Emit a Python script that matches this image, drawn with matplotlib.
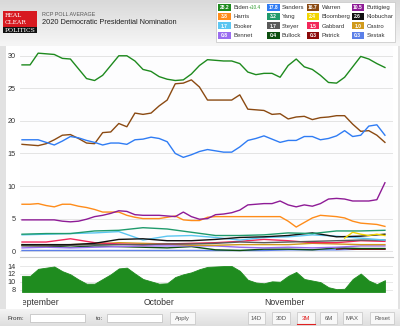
import numpy as np
import pandas as pd
import matplotlib
matplotlib.use('Agg')
import matplotlib.pyplot as plt
import matplotlib.patches as patches
import matplotlib.transforms as mtransforms

plt.rcParams['font.family'] = ['Liberation Sans', 'DejaVu Sans']

# every 2 days, Aug 28 -> Nov 26 2019
dates = pd.date_range('2019-08-28', '2019-11-26', freq='2D')
# every 6 days for the small candidates
dates6 = pd.date_range('2019-08-28', '2019-11-26', freq='6D')
dates_bloomberg = pd.date_range('2019-11-16', '2019-11-26', freq='2D')
dates_patrick = pd.date_range('2019-11-14', '2019-11-26', freq='2D')

biden = [28.6, 28.6, 30.4, 30.3, 30.2, 29.6, 29.5, 28.0, 26.5, 26.2, 27.0, 28.5,
         30.0, 30.0, 29.2, 27.9, 27.6, 26.8, 26.4, 26.2, 26.3, 27.2, 28.5, 29.4,
         29.3, 29.2, 29.2, 28.8, 27.5, 27.1, 27.3, 27.3, 26.7, 28.5, 29.5, 28.3,
         27.9, 27.0, 25.9, 25.8, 26.7, 28.3, 29.9, 29.5, 28.8, 28.2]
warren = [16.4, 16.3, 16.2, 16.5, 17.1, 17.8, 17.9, 17.3, 16.6, 16.5, 18.2, 18.3,
          19.6, 19.1, 21.2, 21.0, 21.2, 22.3, 23.2, 25.7, 25.8, 26.3, 25.2, 23.2,
          23.2, 23.2, 23.2, 24.0, 21.8, 21.7, 21.6, 21.0, 21.1, 20.3, 20.6, 20.7,
          20.2, 20.5, 20.6, 20.8, 20.8, 19.5, 18.4, 18.5, 17.8, 16.7]
sanders = [17.1, 17.1, 17.1, 16.7, 16.3, 16.9, 17.6, 17.4, 17.0, 16.7, 16.3, 16.6,
           16.6, 16.4, 17.1, 17.2, 17.5, 17.3, 16.8, 15.0, 14.4, 14.8, 15.3, 15.6,
           15.4, 15.2, 15.2, 16.0, 17.0, 17.3, 17.7, 17.2, 16.7, 17.0, 17.0, 17.6,
           17.6, 17.1, 17.3, 17.7, 18.5, 17.6, 17.8, 19.2, 19.4, 17.8]
buttigieg = [4.8, 4.8, 4.8, 4.8, 4.8, 4.6, 4.5, 4.6, 4.9, 5.3, 5.5, 5.8,
             6.2, 6.1, 5.6, 5.5, 5.5, 5.5, 5.4, 5.3, 6.0, 5.3, 4.9, 5.0,
             5.6, 5.7, 5.9, 6.3, 7.1, 7.2, 7.3, 7.3, 7.7, 7.1, 6.8, 7.1,
             6.9, 7.3, 8.0, 8.1, 8.0, 7.7, 7.7, 7.7, 7.9, 10.5]
harris = [7.2, 7.2, 7.3, 7.0, 6.8, 7.2, 7.2, 6.9, 6.7, 6.4, 6.0, 6.0,
          6.0, 5.5, 5.2, 5.0, 5.0, 5.0, 5.2, 5.4, 4.8, 4.7, 4.7, 5.2,
          5.3, 5.3, 5.3, 5.3, 5.3, 5.3, 5.3, 5.3, 5.3, 4.6, 3.7, 4.4,
          5.1, 5.5, 5.4, 5.3, 5.1, 4.6, 4.3, 4.2, 4.1, 3.8]

yang = [2.6, 2.7, 2.7, 3.1, 3.2, 3.6, 3.4, 2.9, 2.4, 2.4, 2.5, 2.8, 2.7, 3.1, 3.1, 3.2]
booker = [2.5, 2.6, 2.7, 2.8, 3.0, 1.7, 2.3, 2.4, 2.1, 1.7, 2.1, 2.2, 2.5, 2.3, 2.0, 1.7]
gabbard = [1.4, 1.4, 1.9, 1.3, 1.1, 1.0, 1.1, 1.2, 1.3, 1.5, 1.8, 1.6, 1.3, 1.3, 1.6, 1.5]
klobuchar = [1.0, 1.0, 1.0, 1.2, 1.8, 1.9, 1.6, 1.6, 1.8, 2.1, 2.2, 2.4, 2.8, 2.2, 2.3, 2.6]
castro = [1.0, 0.9, 1.0, 1.1, 1.3, 1.2, 1.1, 0.9, 0.9, 1.0, 1.0, 1.0, 1.2, 1.1, 1.0, 1.0]
steyer = [0.8, 0.8, 0.9, 1.0, 1.0, 1.0, 1.1, 1.1, 1.2, 1.4, 1.3, 1.4, 1.5, 1.6, 1.7, 1.7]
bennet = [0.5, 0.6, 0.5, 0.6, 0.7, 0.8, 0.8, 0.8, 0.8, 0.6, 0.5, 0.6, 0.5, 0.6, 0.8, 0.8]
bullock = [0.9, 0.8, 0.6, 0.8, 0.7, 0.6, 0.5, 0.7, 0.2, 0.1, 0.3, 0.3, 0.2, 0.5, 0.4, 0.4]
sestak = [0.1, 0.1, 0.1, 0.1, 0.1, 0.1, 0.1, 0.1, 0.1, 0.1, 0.1, 0.2, 0.2, 0.2, 0.3, 0.3]
bloomberg = [2.0, 2.9, 2.6, 2.4, 2.6, 2.4]
patrick = [0.3, 0.4, 0.3, 0.3, 0.3, 0.3, 0.3]

# legend order (row by row)
names = ['Biden', 'Sanders', 'Warren', 'Buttigieg',
         'Harris', 'Yang', 'Bloomberg', 'Klobuchar',
         'Booker', 'Steyer', 'Gabbard', 'Castro',
         'Bennet', 'Bullock', 'Patrick', 'Sestak']
colors = ['#1e8a1e', '#2f7cf4', '#8b4a12', '#8e1b96',
          '#ff8c1a', '#1f9a6c', '#f2d600', '#111111',
          '#5cc6f2', '#5a5a5a', '#f2275a', '#d09a1c',
          '#9a6cf0', '#0d4f10', '#8b0a0a', '#5b7fe8']

series = {
    'Biden': (dates, biden), 'Sanders': (dates, sanders), 'Warren': (dates, warren),
    'Buttigieg': (dates, buttigieg), 'Harris': (dates, harris), 'Yang': (dates6, yang),
    'Bloomberg': (dates_bloomberg, bloomberg), 'Klobuchar': (dates6, klobuchar),
    'Booker': (dates6, booker), 'Steyer': (dates6, steyer), 'Gabbard': (dates6, gabbard),
    'Castro': (dates6, castro), 'Bennet': (dates6, bennet), 'Bullock': (dates6, bullock),
    'Patrick': (dates_patrick, patrick), 'Sestak': (dates6, sestak),
}
spread = np.array(biden) - np.array(sanders)

W, H = 400, 326
fig = plt.figure(figsize=(W / 100, H / 100), dpi=100)
fig.patch.set_facecolor('#e2e2e2')

# background / decoration axes in pixel coords
bg = fig.add_axes([0, 0, 1, 1], zorder=-5)
bg.set_xlim(0, W)
bg.set_ylim(H, 0)
bg.axis('off')
grad = np.linspace(0, 1, 50)[:, None]
bg.imshow(grad, extent=(0, W, 46, 0), cmap=matplotlib.colors.LinearSegmentedColormap.from_list(
    'hd', ['#d9d9d9', '#f6f6f6']), aspect='auto', zorder=0)
bg.add_patch(patches.Rectangle((6, 46), 392, 264, fc='white', ec='none', zorder=1))
bg.imshow(grad, extent=(0, W, 326, 309), cmap=matplotlib.colors.LinearSegmentedColormap.from_list(
    'ft', ['#f4f4f4', '#dedede']), aspect='auto', zorder=1)
bg.set_xlim(0, W)
bg.set_ylim(H, 0)

# logo
bg.add_patch(patches.Rectangle((3, 11), 34, 22, fc='#d71920', ec='none', zorder=2))
bg.add_patch(patches.Rectangle((3, 26.5), 34, 6.5, fc='#111111', ec='none', zorder=3))
bg.text(4.5, 15.3, 'REAL', color='white', fontsize=4.3, family='DejaVu Serif',
        va='center', ha='left', zorder=4)
bg.text(4.5, 22, 'CLEAR', color='white', fontsize=4.3, family='DejaVu Serif',
        va='center', ha='left', zorder=4)
bg.text(20, 30, 'POLITICS', color='white', fontsize=4.4, family='DejaVu Serif',
        va='center', ha='center', zorder=4)

bg.text(42, 14, 'RCP POLL AVERAGE', color='#555555', fontsize=3.9, va='center', zorder=4)
bg.text(42, 23, '2020 Democratic Presidential Nomination', color='#222222',
        fontsize=5.3, va='center', zorder=4)

# legend box
bg.add_patch(patches.Rectangle((215.5, 1.5), 179.5, 40, fc='white', ec='#cccccc',
                               lw=0.6, zorder=2))
col_x = [218, 267, 306.5, 351.5]
row_y = [7.3, 16.6, 25.9, 35.2]
for i, name in enumerate(names):
    cx, cy = col_x[i % 4], row_y[i // 4]
    last = series[name][1][-1]
    bg.add_patch(patches.Rectangle((cx, cy - 3.5), 12.5, 7, fc=colors[i], ec='none', zorder=3))
    bg.text(cx + 6.25, cy + 0.2, f'{last:.1f}', color='white', fontsize=3.6,
            ha='center', va='center', fontweight='bold', zorder=4)
    bg.text(cx + 15, cy + 0.2, name, color='#333333', fontsize=4.3, va='center', zorder=4)
bg.text(249, 7.5, f'+{biden[-1] - sanders[-1]:.1f}', color='#2e9a2e', fontsize=3.4,
        va='center', zorder=4)

# main chart
x0 = dates[0] - pd.Timedelta(hours=12)
x1 = dates[0] + pd.Timedelta(days=92)
ax = fig.add_axes([20 / W, 1 - 257 / H, 373 / W, 211 / H])
ax.set_facecolor('#fdfdfe')
for yv in range(0, 31, 5):
    ax.axhline(yv, color='#e4e4e4', lw=0.7, zorder=0)
draw_order = names[::-1]
for name in draw_order:
    i = names.index(name)
    d, v = series[name]
    ax.plot(d, v, color=colors[i], lw=1.0, zorder=2 + (16 - i) * 0.01)
ax.set_xlim(x0, x1)
ax.set_ylim(-0.9, 31.5)
ax.set_yticks(range(0, 31, 5))
ax.tick_params(axis='y', length=0, labelsize=5.2, pad=3, labelcolor='#333333')
ax.set_xticks([])
for s in ['top', 'left', 'right']:
    ax.spines[s].set_visible(False)
ax.spines['bottom'].set_color('#cccccc')
ax.spines['bottom'].set_linewidth(0.8)

# spread panel
ax2 = fig.add_axes([20 / W, 1 - 292 / H, 373 / W, 31 / H])
ax2.set_facecolor('white')
for yv in [8, 10, 12, 14]:
    ax2.axhline(yv, color='#e4e4e4', lw=0.6, zorder=0)
ax2.fill_between(dates, spread, 7.37, color='#1f8c1f', lw=0.6, zorder=2)
ax2.set_xlim(x0, x1)
ax2.set_ylim(7.37, 15.3)
ax2.set_yticks([8, 10, 12, 14])
ax2.tick_params(axis='y', length=0, labelsize=5.2, pad=3, labelcolor='#333333')
ax2.set_xticks([])
for s in ax2.spines.values():
    s.set_visible(False)

clip = mtransforms.TransformedBbox(mtransforms.Bbox([[22.5 / W, 0], [393 / W, 1]]), fig.transFigure)
for m, lab in [('2019-09-01', 'September'), ('2019-10-01', 'October'), ('2019-11-01', 'November')]:
    t = ax2.text(pd.Timestamp(m), -0.35, lab, transform=ax2.get_xaxis_transform(),
                 ha='center', va='center', fontsize=6.2, color='#333333', clip_on=True)
    t.set_clip_path(None)
    t.set_clip_box(clip)

# bottom controls
bg.text(8, 318, 'From:', fontsize=4.6, color='#333333', va='center', zorder=4)
bg.add_patch(patches.Rectangle((30, 314), 54.5, 8, fc='white', ec='#bbbbbb', lw=0.5, zorder=3))
bg.text(96, 318, 'to:', fontsize=4.6, color='#333333', va='center', zorder=4)
bg.add_patch(patches.Rectangle((107, 314), 55, 8, fc='white', ec='#bbbbbb', lw=0.5, zorder=3))
buttons = [('Apply', 170, 195), ('14D', 248, 265), ('30D', 272, 290), ('3M', 297, 315),
           ('6M', 320, 337), ('MAX', 343, 362), ('Reset', 370, 394)]
for lab, bx0, bx1 in buttons:
    bg.add_patch(patches.Rectangle((bx0, 312), bx1 - bx0, 12, fc='#f8f8f8', ec='#c4c4c4',
                                   lw=0.5, zorder=3))
    bg.text((bx0 + bx1) / 2, 318.3, lab, fontsize=4.3, ha='center', va='center',
            color='#e02020' if lab == '3M' else '#555555', zorder=4)
bg.plot([297, 315], [323.5, 323.5], color='#e02020', lw=0.8, zorder=5)

fig.savefig('out.png', dpi=100, facecolor=fig.get_facecolor())
